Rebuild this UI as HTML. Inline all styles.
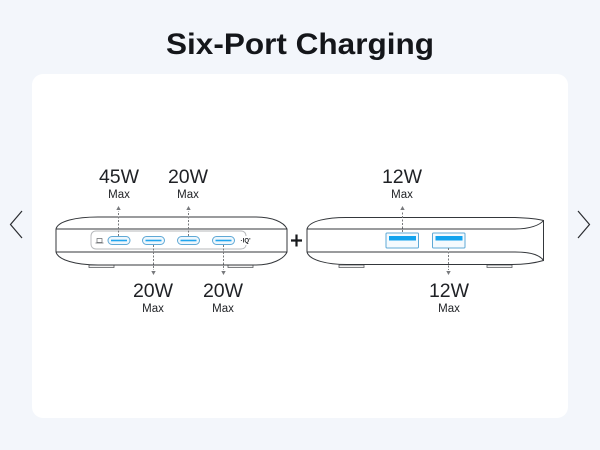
<!DOCTYPE html>
<html>
<head>
<meta charset="utf-8">
<style>
html,body{margin:0;padding:0;background:#f3f6fb;width:600px;height:450px;overflow:hidden}
svg{display:block}
text{font-family:"Liberation Sans",sans-serif;fill:#1f2125;text-anchor:middle}
.w{font-size:19.5px}
.m{font-size:11.5px}
.d{fill:none;stroke:#34373b;stroke-width:1}
.a{stroke:#77797c;stroke-width:1;stroke-dasharray:2 1.5;fill:none}
.h{fill:#77797c}
.c{fill:#eef7fd;stroke:#5fa9d6;stroke-width:1}
.cb{stroke:#20a5ee;stroke-width:1.6}
</style>
</head>
<body>
<svg width="600" height="450" viewBox="0 0 600 450" xmlns="http://www.w3.org/2000/svg">
<rect width="600" height="450" fill="#f3f6fb"/>
<rect x="32" y="74" width="536" height="344" rx="11" fill="#fff"/>
<text x="300" y="54" font-size="30" font-weight="700" textLength="268" lengthAdjust="spacingAndGlyphs" style="fill:#14161a">Six-Port Charging</text>
<path d="M22 211L10.500 224.500L22 238" fill="none" stroke="#2a2c30" stroke-width="1.200"/>
<path d="M578 211L589.500 224.500L578 238" fill="none" stroke="#2a2c30" stroke-width="1.200"/>

<!-- left device -->
<path d="M89 265h25v2.500h-25zM228 265h25v2.500h-25z" fill="#f2f2f2" stroke="#55585c" stroke-width=".8"/>
<path class="d" d="M56 229C58 221 76 217 98 217H256C272 217 284 222 287 229V252C284 259 272 265 256 265H98C76 265 58 260 56 252Z"/>
<path class="d" d="M56 229H287M56 252H287"/>
<path d="M246 236C246 233 244 231 241 231H96C93 231 91 233 91 236V244C91 247 93 249 96 249H241C244 249 246 247 246 245" fill="none" stroke="#b5b7ba" stroke-width=".9"/>
<path d="M97 238.500h5v4h-5zM95.500 243h8" fill="none" stroke="#6a6c70" stroke-width=".7"/>
<g>
<rect class="c" x="108" y="236.500" width="22" height="8" rx="4"/><path class="cb" d="M111 240.500H127"/>
<rect class="c" x="142.500" y="236.500" width="22" height="8" rx="4"/><path class="cb" d="M145.500 240.500H161.500"/>
<rect class="c" x="177.500" y="236.500" width="22" height="8" rx="4"/><path class="cb" d="M180.500 240.500H196.500"/>
<rect class="c" x="212.500" y="236.500" width="22" height="8" rx="4"/><path class="cb" d="M215.500 240.500H231.500"/>
</g>
<rect x="239" y="236" width="12" height="9" fill="#fff"/>
<text x="245.500" y="242.500" font-size="6" font-weight="700" textLength="10" lengthAdjust="spacing">·IQ'</text>

<!-- left arrows -->
<path class="a" d="M118.500 236V211"/><path class="h" d="M118.500 206l-2.200 4h4.400z"/>
<path class="a" d="M188.500 236V211"/><path class="h" d="M188.500 206l-2.200 4h4.400z"/>
<path class="a" d="M153.500 245V270"/><path class="h" d="M153.500 275l-2.200 -4h4.400z"/>
<path class="a" d="M223.500 245V270"/><path class="h" d="M223.500 275l-2.200 -4h4.400z"/>

<text class="w" x="119" y="183">45W</text><text class="m" x="119" y="198">Max</text>
<text class="w" x="188" y="183">20W</text><text class="m" x="188" y="198">Max</text>
<text class="w" x="153" y="297">20W</text><text class="m" x="153" y="312">Max</text>
<text class="w" x="223" y="297">20W</text><text class="m" x="223" y="312">Max</text>

<!-- plus -->
<path d="M296.500 234.500V246.500M291 240.500H302" stroke="#17191c" stroke-width="2.200" fill="none"/>

<!-- right device -->
<path d="M339 265h25v2.500h-25zM487 265h25v2.500h-25z" fill="#f2f2f2" stroke="#55585c" stroke-width=".8"/>
<path class="d" d="M307 229C309 221 327 217 350 217.500H515C528 218 538 219 543.500 220.500V260.500C535 263 525 264.500 512 264.500H350C327 265 309 260 307 252Z"/>
<path class="d" d="M307 229H515C530 229 540 225 543.500 220.500M307 252H515C530 252 540 255 543.500 260.500"/>
<rect x="386" y="233" width="32.500" height="15" rx="1" fill="#f4fafe" stroke="#5fa9d6"/>
<rect x="389" y="236" width="27" height="4.500" fill="#12a3ee"/>
<rect x="432.500" y="233" width="32.500" height="15" rx="1" fill="#f4fafe" stroke="#5fa9d6"/>
<rect x="435.500" y="236" width="27" height="4.500" fill="#12a3ee"/>

<path class="a" d="M402.500 232V211"/><path class="h" d="M402.500 206l-2.200 4h4.400z"/>
<path class="a" d="M448.500 248V270"/><path class="h" d="M448.500 275l-2.200 -4h4.400z"/>

<text class="w" x="402" y="183">12W</text><text class="m" x="402" y="198">Max</text>
<text class="w" x="449" y="297">12W</text><text class="m" x="449" y="312">Max</text>
</svg>
</body>
</html>
